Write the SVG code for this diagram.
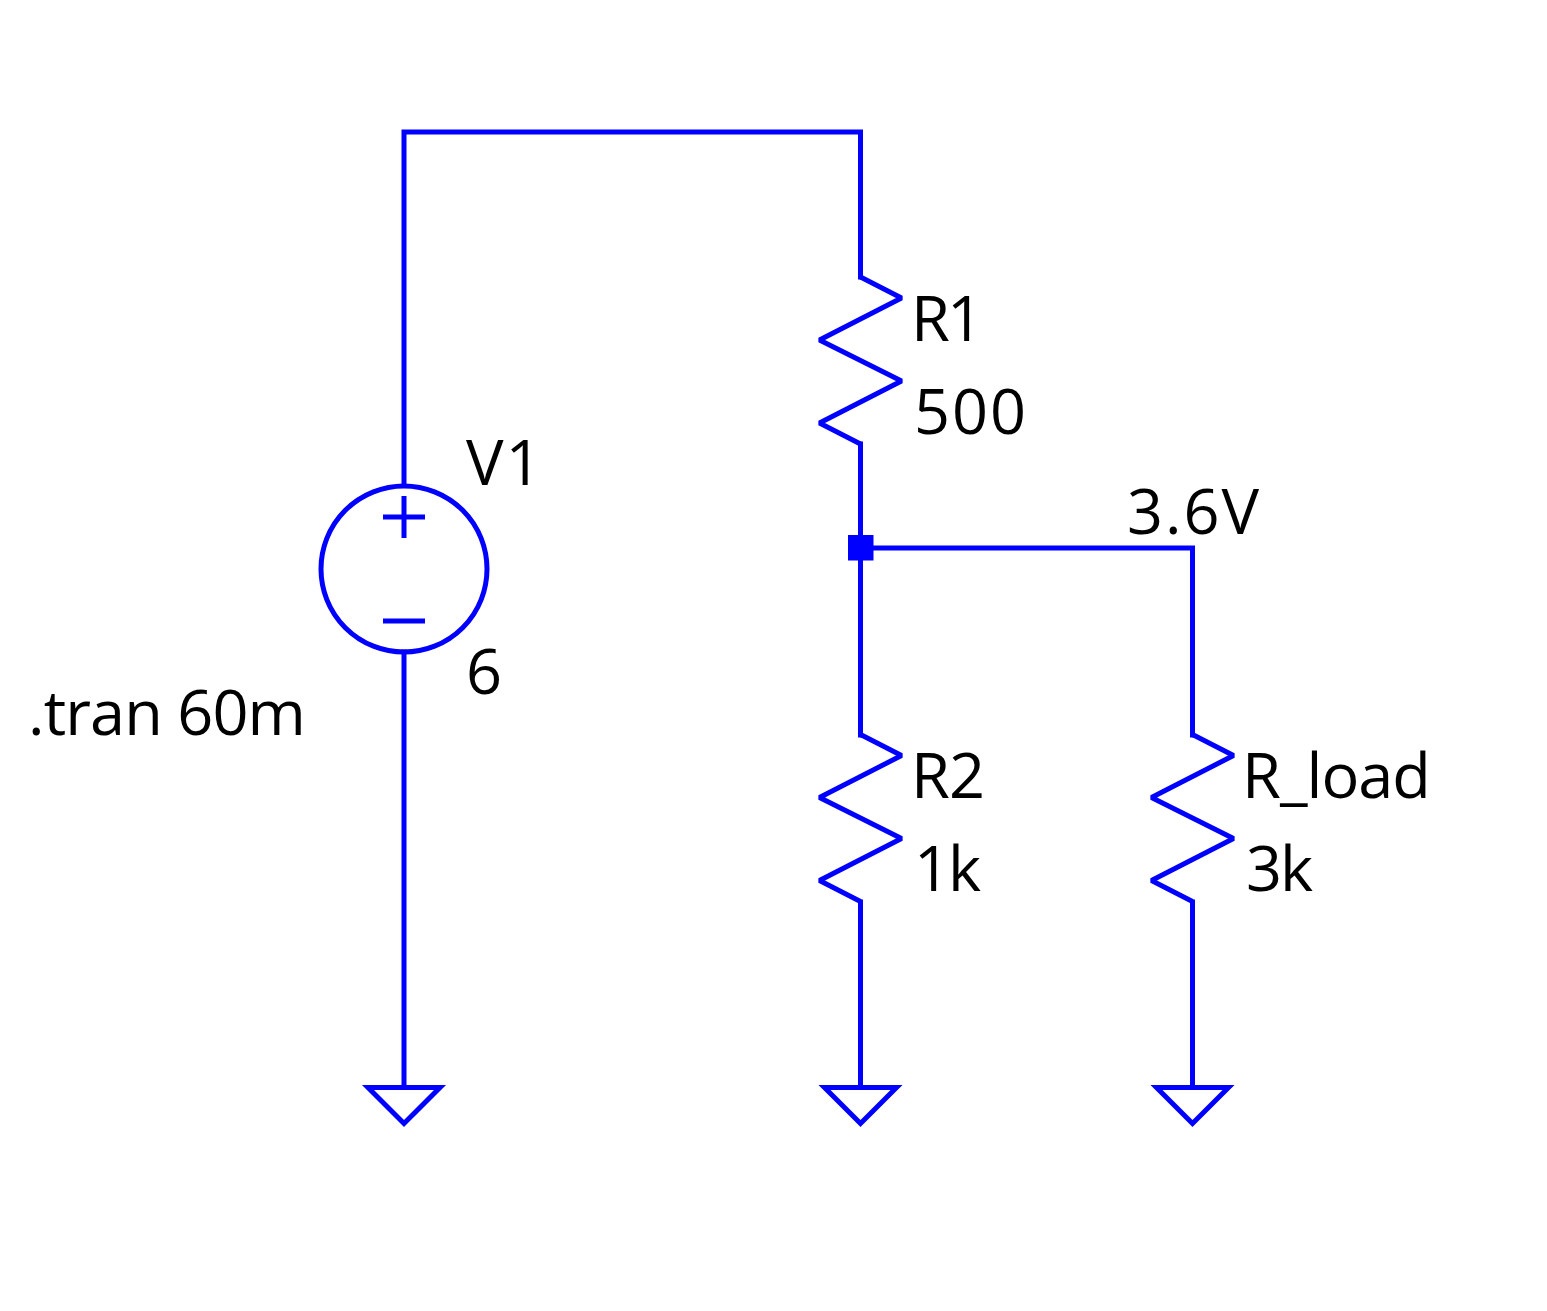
<svg xmlns="http://www.w3.org/2000/svg" width="1547" height="1311" viewBox="0 0 1547 1311">
<style>
.w{fill:none;stroke:#0000ff;stroke-width:5;stroke-linecap:butt;stroke-linejoin:bevel}
.m{stroke-linejoin:miter;stroke-linecap:square}
text{font-family:"Open Sans","Noto Sans","Liberation Sans",sans-serif;font-size:63px;fill:#000}
</style>
<defs>
<path id="res" class="w" d="M0 0L41 21L-41 63L41 104L-41 146L0 167"/>
<path id="gnd" class="w m" d="M-36 0H36L0 36Z"/>
</defs>
<rect width="1547" height="1311" fill="#fff"/>
<g id="connectors">
<path class="w m" d="M404 484V132H860.500V277"/>
<path class="w m" d="M860.500 444V735"/>
<path class="w m" d="M860.500 548H1192.500V735"/>
<path class="w m" d="M404 652V1087"/>
<path class="w m" d="M860.500 902V1087"/>
<path class="w m" d="M1192.500 902V1087"/>
</g>
<g id="V1">
<circle class="w" cx="404" cy="569" r="83"/>
<path class="w" d="M383 517H425M404 496V538M383 621H425"/>
<text x="466" y="485" letter-spacing="2">V1</text>
<text x="466" y="694">6</text>
</g>
<g id="R1"><use href="#res" x="860.500" y="277"/><text x="911" y="341" letter-spacing="-3">R1</text><text x="914" y="434" letter-spacing="2">500</text></g>
<g id="R2"><use href="#res" x="860.500" y="734.500"/><text x="911" y="798" letter-spacing="-1">R2</text><text x="914" y="891" letter-spacing="-2">1k</text></g>
<g id="R_load"><use href="#res" x="1192.500" y="734.500"/><text x="1242" y="798" letter-spacing="-1">R_load</text><text x="1246" y="891" letter-spacing="-2">3k</text></g>
<g id="junction"><rect x="848" y="535" width="25.500" height="25.500" fill="#0000ff"/></g>
<g id="node-label"><text x="1127" y="534" letter-spacing="2">3.6V</text></g>
<g id="directive"><text x="28" y="735" letter-spacing="-0.900">.tran 60m</text></g>
<g id="gnd1"><use href="#gnd" x="404" y="1087.500"/></g>
<g id="gnd2"><use href="#gnd" x="860.500" y="1087.500"/></g>
<g id="gnd3"><use href="#gnd" x="1192.500" y="1087.500"/></g>
</svg>
